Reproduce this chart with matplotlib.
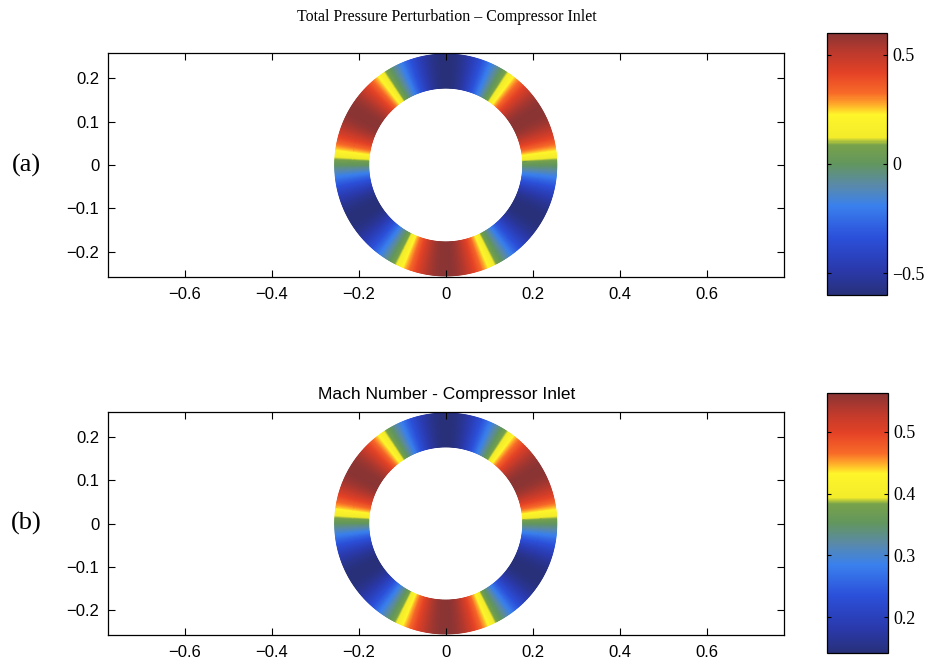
import numpy as np
import matplotlib
matplotlib.use("Agg")
import matplotlib.pyplot as plt
from matplotlib.colors import LinearSegmentedColormap

W, H = 927, 663

# Annulus geometry (m)
r_inner = 0.177
r_outer = 0.255
n_lobes = 3

# Field ranges on the annulus: [min, max]
pt_range = [-0.6, 0.6]          # total pressure perturbation
mach_range = [0.142, 0.563]     # Mach number

pt_ticks = [-0.5, 0, 0.5]
pt_ticklabels = ["\u22120.5", "0", "0.5"]
mach_ticks = [0.2, 0.3, 0.4, 0.5]
mach_ticklabels = ["0.2", "0.3", "0.4", "0.5"]

x_ticks = [-0.6, -0.4, -0.2, 0, 0.2, 0.4, 0.6]
x_ticklabels = ["\u22120.6", "\u22120.4", "\u22120.2", "0", "0.2", "0.4", "0.6"]
y_ticks = [-0.2, -0.1, 0, 0.1, 0.2]
y_ticklabels = ["\u22120.2", "\u22120.1", "0", "0.1", "0.2"]

titles = ["Total Pressure Perturbation \u2013 Compressor Inlet",
          "Mach Number - Compressor Inlet"]
panel_labels = ["(a)", "(b)"]

# Colour scale: navy -> blue -> teal/green -> yellow -> orange -> red -> maroon
cmap = LinearSegmentedColormap.from_list("inlet", [
    (0.00, "#28307a"),
    (0.10, "#2a3aae"),
    (0.22, "#2b50da"),
    (0.34, "#3a80ee"),
    (0.42, "#5a8aa8"),
    (0.50, "#62965e"),
    (0.575, "#78a24a"),
    (0.60, "#f2ec2a"),
    (0.69, "#fff52a"),
    (0.73, "#ffaa2a"),
    (0.77, "#f86a28"),
    (0.85, "#e44226"),
    (0.92, "#c03a2c"),
    (1.00, "#8a3434"),
])

theta = np.linspace(-np.pi, np.pi, 721)
radius = np.linspace(r_inner, r_outer, 3)
TT, RR = np.meshgrid(theta, radius)
X = RR * np.cos(TT)
Y = RR * np.sin(TT)
shape = np.sin(n_lobes * TT)


def field(rng):
    mid = 0.5 * (rng[0] + rng[1])
    half = 0.5 * (rng[1] - rng[0])
    return mid + half * shape


fig = plt.figure(figsize=(W / 100, H / 100), dpi=100)

ax_rects = [
    [107.5 / W, (H - 277) / H, 676.5 / W, 224 / H],
    [107.5 / W, (H - 635) / H, 676.5 / W, 223 / H],
]
cb_rects = [
    [827 / W, (H - 295) / H, 60 / W, 262 / H],
    [827 / W, (H - 653) / H, 61 / W, 260 / H],
]
ranges = [pt_range, mach_range]
cticks = [pt_ticks, mach_ticks]
cticklabels = [pt_ticklabels, mach_ticklabels]
title_y = [17, 395]
label_y = [165, 523]

sans = ["Liberation Sans", "DejaVu Sans"]
serif = ["Liberation Serif", "DejaVu Serif"]

for i in range(2):
    ax = fig.add_axes(ax_rects[i])
    mesh = ax.pcolormesh(X, Y, field(ranges[i]), cmap=cmap,
                         vmin=ranges[i][0], vmax=ranges[i][1],
                         shading="gouraud", rasterized=True)
    ax.set_xlim(-0.777, 0.777)
    ax.set_ylim(-0.2575, 0.2575)
    ax.set_xticks(x_ticks)
    ax.set_yticks(y_ticks)
    ax.set_xticklabels(x_ticklabels)
    ax.set_yticklabels(y_ticklabels)
    ax.tick_params(direction="in", length=5, width=0.8, top=True, right=True,
                   labelsize=12)
    ax.tick_params(axis="x", pad=7)
    ax.tick_params(axis="y", pad=6)
    for lab in ax.get_xticklabels() + ax.get_yticklabels():
        lab.set_family(sans)
    for s in ax.spines.values():
        s.set_linewidth(0.9)

    fig.text(447 / W, 1 - title_y[i] / H, titles[i], ha="center", va="center",
             fontsize=11.5 if i == 0 else 12.5, family=serif if i == 0 else sans)
    fig.text(26 / W, 1 - label_y[i] / H, panel_labels[i], ha="center",
             va="center", fontsize=19, family=serif)

    cax = fig.add_axes(cb_rects[i])
    cb = fig.colorbar(mesh, cax=cax)
    cb.set_ticks(cticks[i])
    cb.set_ticklabels(cticklabels[i])
    cax.tick_params(direction="in", length=3, width=0.8, left=True, right=True,
                    labelsize=13, pad=4)
    for lab in cax.get_yticklabels():
        lab.set_family(serif)
    cb.outline.set_linewidth(0.9)

fig.savefig("out.png", dpi=100)
